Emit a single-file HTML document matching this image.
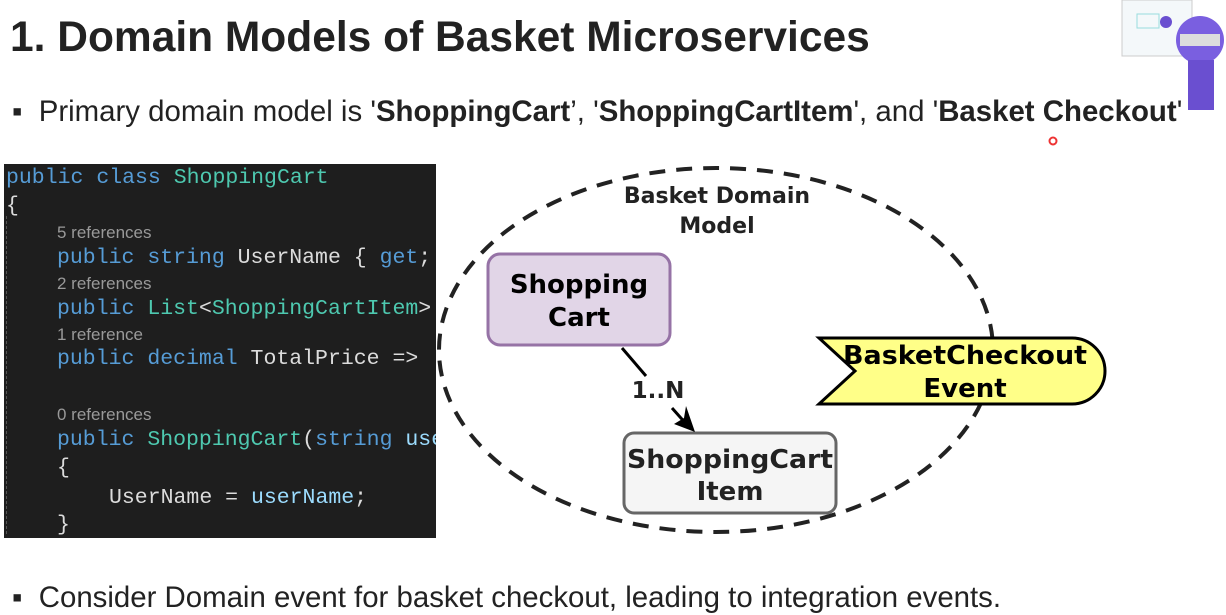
<!DOCTYPE html>
<html><head><meta charset="utf-8"><style>
body{margin:0;width:1226px;height:610px;background:#fff;overflow:hidden;position:relative;font-family:"Liberation Sans",sans-serif}
.t{position:absolute;white-space:nowrap}
h1{position:absolute;left:10px;top:14px;margin:0;font-size:42.5px;font-weight:bold;color:#222}
.b{font-size:29.4px;color:#222}
.code{position:absolute;left:4px;top:164px;width:432px;height:374px;background:#1e1e1e;overflow:hidden;font-family:"Liberation Mono",monospace;font-size:21.5px;color:#dcdcdc}
.code div{position:absolute;white-space:nowrap;left:2px}
.k{color:#569cd6}.c{color:#4ec9b0}.v{color:#9cdcfe}
.r{font-family:"Liberation Sans",sans-serif;font-size:17px;color:#999}
.g{position:absolute;left:9px;top:52px;height:318px;border-left:1px dashed #555}
</style></head><body>
<h1>1. Domain Models of Basket Microservices</h1>
<div class="t b" style="left:12px;top:95px">▪&nbsp;&nbsp;Primary domain model is '<b>ShoppingCart</b>’, '<b>ShoppingCartItem</b>', and '<b>Basket Checkout</b>'</div>
<div class="t b" style="left:12px;top:581px">▪&nbsp;&nbsp;Consider Domain event for basket checkout, leading to integration events.</div>
<div class="code">
<div class="g"></div>
<div style="top:2px"><span class="k">public class</span> <span class="c">ShoppingCart</span></div>
<div style="top:30px">{</div>
<div class="r" style="left:53px;top:59px">5 references</div>
<div style="left:53px;top:82px"><span class="k">public string</span> UserName { <span class="k">get</span>;</div>
<div class="r" style="left:53px;top:110px">2 references</div>
<div style="left:53px;top:133px"><span class="k">public</span> <span class="c">List</span>&lt;<span class="c">ShoppingCartItem</span>&gt;</div>
<div class="r" style="left:53px;top:161px">1 reference</div>
<div style="left:53px;top:183px"><span class="k">public decimal</span> TotalPrice =&gt; </div>
<div class="r" style="left:53px;top:241px">0 references</div>
<div style="left:53px;top:264px"><span class="k">public</span> <span class="c">ShoppingCart</span>(<span class="k">string</span> <span class="v">use</span></div>
<div style="left:53px;top:292px">{</div>
<div style="left:105px;top:322px">UserName = <span class="v">userName</span>;</div>
<div style="left:53px;top:349px">}</div>
</div>
<svg style="position:absolute;left:0;top:0" width="1226" height="610">
<ellipse cx="716" cy="350" rx="277" ry="182" fill="none" stroke="#222" stroke-width="4" stroke-dasharray="16 11"/>
<rect x="488" y="254" width="182" height="91" rx="12" fill="#e1d5e7" stroke="#9673a6" stroke-width="3"/>
<rect x="624" y="433" width="212" height="80" rx="10" fill="#f5f5f5" stroke="#666" stroke-width="3"/>
<path d="M819 338 H1072 A33 33 0 0 1 1072 404 H819 L855 371 Z" fill="#ffff88" stroke="#000" stroke-width="3"/>
<line x1="622" y1="348" x2="646" y2="376" stroke="#000" stroke-width="3"/>
<line x1="672" y1="408" x2="688" y2="426" stroke="#000" stroke-width="3"/>
<path d="M695 432 L674 424 L684 418 L686 406 Z" fill="#000"/>
<g font-family="DejaVu Sans,sans-serif" font-weight="bold" fill="#222" text-anchor="middle">
<text x="717" y="203" font-size="22">Basket Domain</text>
<text x="717" y="233" font-size="22">Model</text>
<text x="579" y="293" font-size="26" fill="#000">Shopping</text>
<text x="579" y="326" font-size="26" fill="#000">Cart</text>
<text x="658" y="398" font-size="23">1..N</text>
<text x="730" y="468" font-size="26" textLength="206" lengthAdjust="spacingAndGlyphs">ShoppingCart</text>
<text x="730" y="500" font-size="26">Item</text>
<text x="965" y="364" font-size="26" fill="#000" textLength="244" lengthAdjust="spacingAndGlyphs">BasketCheckout</text>
<text x="965" y="397" font-size="26" fill="#000">Event</text>
</g>
<circle cx="1053" cy="141" r="3.5" fill="none" stroke="#e33" stroke-width="2"/>
<rect x="1122" y="0" width="70" height="56" fill="#f4f8fa" stroke="#ccc"/>
<rect x="1137" y="14" width="22" height="14" fill="none" stroke="#9dd"/>
<circle cx="1200" cy="40" r="24" fill="#7a5fe0"/>
<rect x="1180" y="34" width="40" height="12" fill="#ddd"/>
<rect x="1188" y="60" width="26" height="50" fill="#6a4fd0"/>
<circle cx="1166" cy="22" r="6" fill="#6a4fd0"/>
</svg>
</body></html>
